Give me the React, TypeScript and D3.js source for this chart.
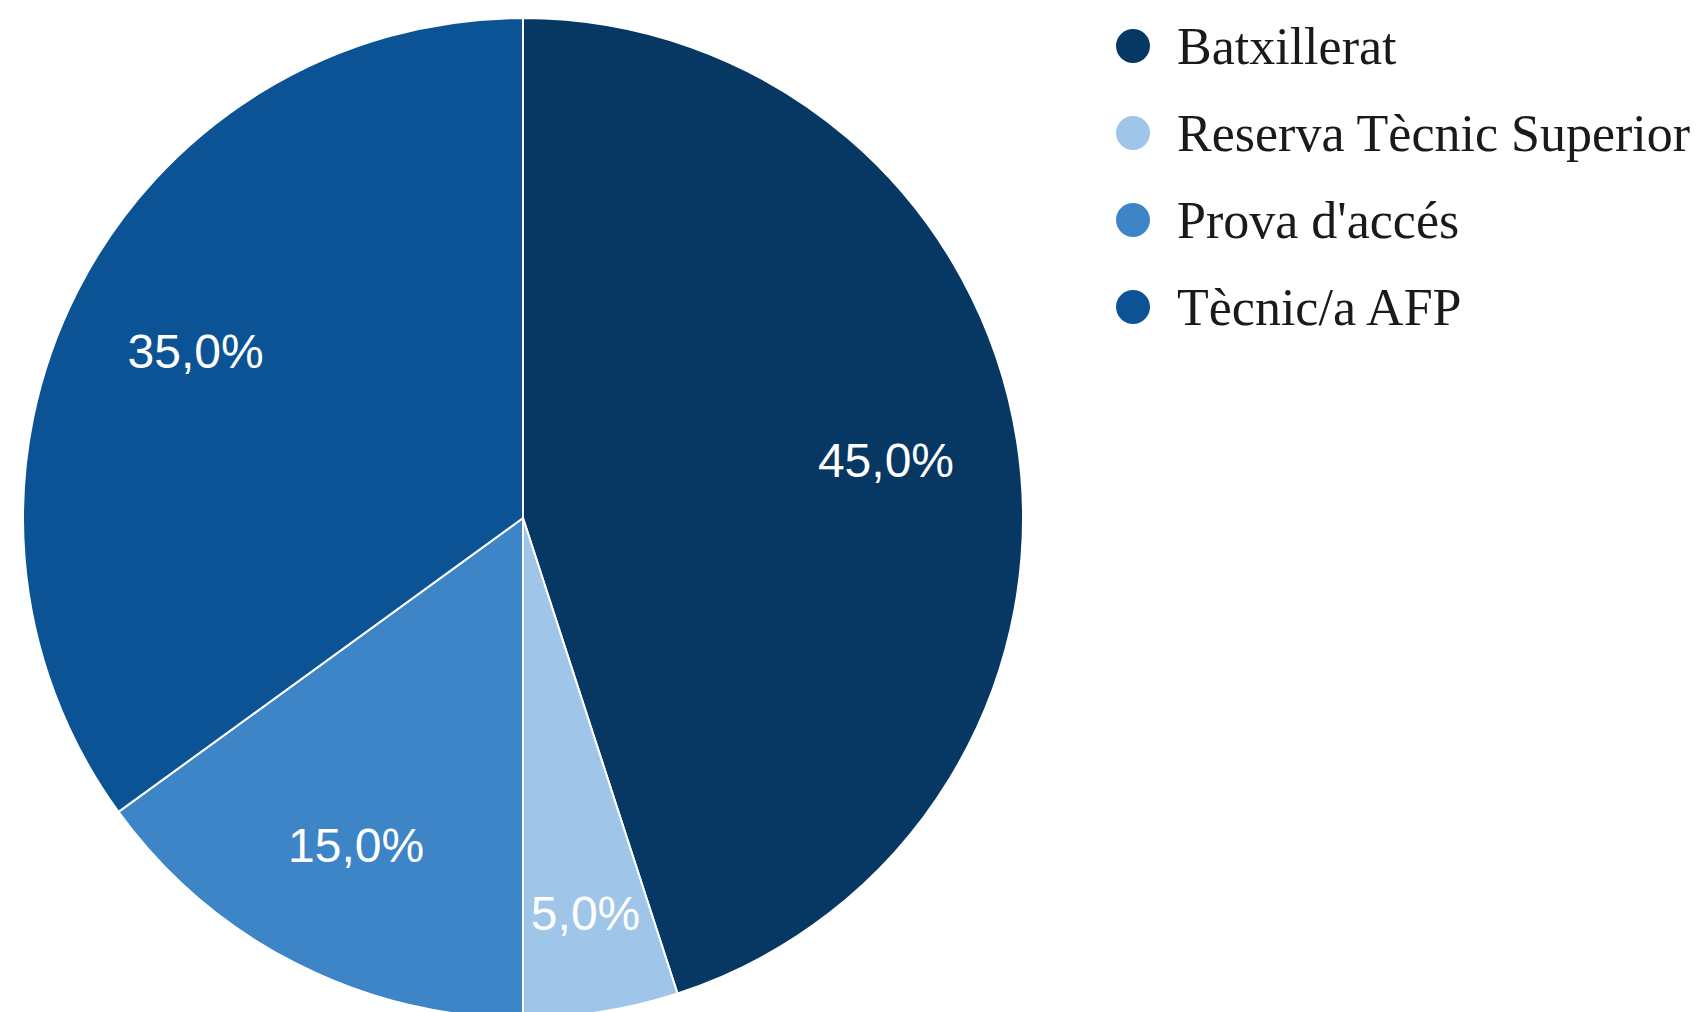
import React, { useEffect, useRef } from 'react';
import * as d3 from 'd3';

const categories = ['Batxillerat', 'Reserva Tècnic Superior', "Prova d'accés", 'Tècnic/a AFP'];
const shares = [45, 5, 15, 35];
const colors = ['#073763', '#9fc5e8', '#3d85c6', '#0b5394'];

const W = 1698;
const H = 1012;

const App: React.FC = () => {
  const svgRef = useRef<SVGSVGElement>(null);

  useEffect(() => {
    if (!svgRef.current) return;
    const svg = d3.select(svgRef.current);
    svg.selectAll('*').remove();

    const cx = 523;
    const cy = 518;
    const radius = 500;

    const rows = categories.map((c, i) => ({ name: c, value: shares[i], color: colors[i] }));
    const pie = d3.pie<typeof rows[0]>().value(d => d.value).sort(null);
    const arcs = pie(rows);
    const arc = d3.arc<d3.PieArcDatum<typeof rows[0]>>().innerRadius(0).outerRadius(radius);

    const g = svg.append('g').attr('transform', `translate(${cx},${cy})`);

    g.selectAll('path.slice')
      .data(arcs)
      .enter()
      .append('path')
      .attr('class', 'slice')
      .attr('d', arc)
      .attr('fill', d => d.data.color)
      .attr('stroke', '#ffffff')
      .attr('stroke-width', 2);

    // labels: narrow slices get pushed outward a bit
    const fmt = (v: number) => v.toFixed(1).replace('.', ',') + '%';
    g.selectAll('text.lbl')
      .data(arcs)
      .enter()
      .append('text')
      .attr('class', 'lbl')
      .attr('transform', d => {
        const a = (d.startAngle + d.endAngle) / 2;
        const f = d.endAngle - d.startAngle < 0.5 ? 0.8 : 0.735;
        return `translate(${Math.sin(a) * radius * f},${-Math.cos(a) * radius * f})`;
      })
      .attr('text-anchor', 'middle')
      .attr('dy', '0.35em')
      .attr('fill', '#ffffff')
      .attr('font-family', 'Liberation Sans, Arial, sans-serif')
      .attr('font-size', 48)
      .text(d => fmt(d.data.value));

    // legend
    const legendY = d3.scalePoint<string>().domain(categories).range([46, 307]);
    const lg = svg.selectAll('g.leg')
      .data(rows)
      .enter()
      .append('g')
      .attr('class', 'leg')
      .attr('transform', d => `translate(1133,${legendY(d.name)})`);

    lg.append('circle').attr('r', 17).attr('fill', d => d.color);
    lg.append('text')
      .attr('x', 44)
      .attr('dy', '0.35em')
      .attr('fill', '#1a1a1a')
      .attr('font-family', 'Liberation Serif, Times New Roman, serif')
      .attr('font-size', 52)
      .text(d => d.name);
  }, []);

  return (
    <div style={{ position: 'absolute', left: 0, top: 0, width: W, height: H, background: '#fff' }}>
      <svg ref={svgRef} width={W} height={H} viewBox={`0 0 ${W} ${H}`} style={{ display: 'block' }} />
    </div>
  );
};

export default App;
